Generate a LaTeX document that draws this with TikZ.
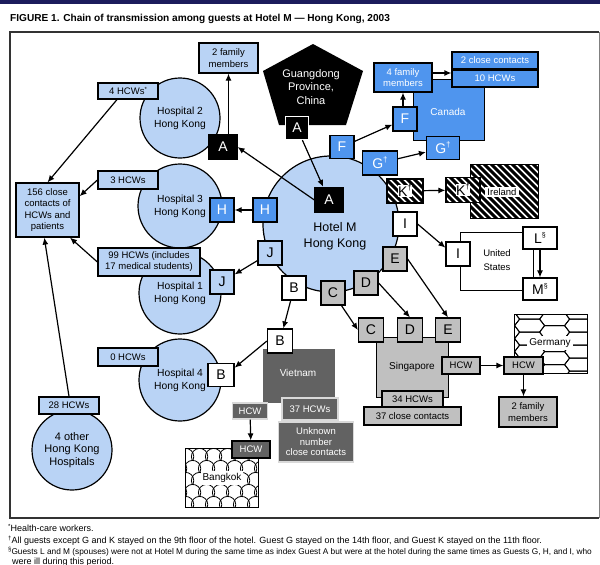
\documentclass[tikz,border=0pt]{standalone}
\usepackage{fontspec}
\setmainfont{Liberation Sans}
\usetikzlibrary{calc,arrows.meta}
\definecolor{lblue}{HTML}{B9D3F5}
\definecolor{mblue}{HTML}{4F95EE}
\definecolor{lgrey}{HTML}{C0C0C0}
\definecolor{dgrey}{HTML}{626262}
\definecolor{navy}{HTML}{1C1C5C}
\newcommand\sdag{\raisebox{0.42em}{\fontsize{8}{8}\selectfont\textdagger}}
\newcommand\ssec{\raisebox{0.42em}{\fontsize{7}{7}\selectfont\S}}
\newcommand\fnmark[1]{\raisebox{0.3em}{\fontsize{6}{6}\selectfont #1}}
\tikzset{
  bx/.style={draw, line width=1.2pt, inner sep=0pt, align=center},
  lbl/.style={bx, fill=lblue, font=\fontsize{9.5}{11.5}\selectfont},
  glbl/.style={bx, fill=lgrey, font=\fontsize{9.5}{11.5}\selectfont},
  blbl/.style={bx, fill=mblue, text=white, font=\fontsize{9.5}{11.5}\selectfont},
  dlbl/.style={bx, fill=dgrey, draw=black!15, text=white, font=\fontsize{9.5}{10.5}\selectfont},
  guest/.style={bx, minimum width=24, minimum height=24, font=\fontsize{14}{14}\selectfont},
  gA/.style={guest, fill=black, text=white},
  gF/.style={guest, fill=mblue, text=white},
  gJ/.style={guest, fill=lblue},
  gW/.style={guest, fill=white},
  gC/.style={guest, fill=lgrey},
  hosp/.style={circle, draw, line width=1.2pt, fill=lblue, inner sep=0pt, align=center, font=\fontsize{10.3}{12.8}\selectfont},
  hatch/.style={path picture={\foreach \i in {-70,-63,...,70}{\draw[line width=3pt] ($(path picture bounding box.center)+(\i-35,-35)$) -- ++(70,70);}}},
  hexes/.style={path picture={\foreach \r in {0,...,10}{\foreach \c in {-1,...,2}{\pgfmathsetmacro\xo{\c*50+mod(\r,2)*25}\draw[line width=0.9pt] ($(path picture bounding box.north west)+(\xo,\r*6.5-2)$) -- ++(5,-6.5) -- ++(20,0) -- ++(5,6.5) -- ++(-5,6.5) -- ++(-20,0) -- cycle;}}}},
  scales/.style={path picture={\foreach \r in {0,...,5}{\foreach \c in {-1,...,6}{\pgfmathsetmacro\xo{\c*14+mod(\r,2)*7}\draw[line width=0.8pt] ($(path picture bounding box.north west)+(\xo,\r*12+8)$) ++(155:8.2) arc[start angle=155,end angle=385,radius=8.2];}}}},
  arr/.style={line width=1.2pt, -{Latex[length=7pt,width=6pt]}},
  txt/.style={inner sep=1pt, align=center},
  fn/.style={anchor=base west, inner sep=0, font=\fontsize{9}{9}\selectfont},
}
\begin{document}
\begin{tikzpicture}[x=1pt,y=-1pt]
\useasboundingbox (0,0) rectangle (600,565);
% header and frame
\fill[navy] (0,0) rectangle (600,3.5);
\node[anchor=base west, inner sep=0, font=\bfseries\fontsize{10.1}{10}\selectfont] (title) at (10,21) {FIGURE 1. Chain of transmission among guests at Hotel M — Hong Kong, 2003};
\draw[line width=1.6pt, black!80] (599,32) -- (10,32) -- (10,518) -- (599,518);
\draw[line width=0.8pt, black!50] (599,32) -- (599,518);

% circles
\node[hosp, minimum size=136] (hotel) at (331,224) {};
\node[txt, font=\fontsize{12.5}{16}\selectfont] (hoteltxt) at (335,236) {Hotel M\\Hong Kong};
\node[hosp, minimum size=80] (hosp2) at (180,118) {Hospital 2\\Hong Kong};
\node[hosp, minimum size=84] (hosp3) at (180,206) {Hospital 3\\Hong Kong};
\node[hosp, minimum size=82] (hosp1) at (180,293) {Hospital 1\\Hong Kong};
\node[hosp, minimum size=82] (hosp4) at (180,380) {Hospital 4\\Hong Kong};
\node[hosp, minimum size=80, font=\fontsize{11}{12.5}\selectfont] (other) at (72,450) {4 other\\Hong Kong\\Hospitals};

% Guangdong
\fill[black] (313,44) -- (363,71) -- (346,125) -- (279,125) -- (263,71) -- cycle;
\node[txt, text=white, font=\fontsize{11}{13.5}\selectfont] (gdtxt) at (311,87) {Guangdong\\Province,\\China};

% regions
\node[bx, fill=mblue, minimum width=71, minimum height=61, anchor=north west] (canada) at (413,79) {};
\node[txt, text=white, font=\fontsize{10}{11}\selectfont] (canadatxt) at (448,112) {Canada};
\node[bx, fill=white, hatch, minimum width=68, minimum height=54, anchor=north west] (ireland) at (470,164) {};
\node[txt, fill=white, inner sep=2pt, font=\fontsize{9.5}{10}\selectfont] (irltxt) at (502,192) {Ireland};
\node[bx, fill=white, minimum width=73, minimum height=58, anchor=north west] (us) at (460,232) {};
\node[txt, font=\fontsize{9.5}{14}\selectfont] (ustxt) at (497,260) {United\\States};
\node[bx, fill=lgrey, minimum width=72, minimum height=60, anchor=north west] (sing) at (376,337) {};
\node[txt, font=\fontsize{10}{11}\selectfont] (singtxt) at (412,367) {Singapore};
\node[bx, fill=white, hexes, minimum width=73, minimum height=59, anchor=north west] (germany) at (514,314) {};
\node[txt, fill=white, inner sep=2pt, font=\fontsize{10}{11}\selectfont] (gertxt) at (550,343) {Germany};
\node[fill=dgrey, inner sep=0, minimum width=72, minimum height=54, anchor=north west] (vietnam) at (263,349) {};
\node[txt, text=white, font=\fontsize{10}{11}\selectfont] (viettxt) at (298,373) {Vietnam};
\node[bx, fill=white, scales, minimum width=73, minimum height=59, anchor=north west] (bangkok) at (185,448) {};
\node[txt, fill=white, inner sep=2pt, font=\fontsize{10}{11}\selectfont] (bkktxt) at (222,478) {Bangkok};

% label boxes (Hong Kong)
\node[lbl, minimum width=59, minimum height=30] (fam2) at (228.5,58) {2 family\\members};
\node[lbl, minimum width=60, minimum height=16] (hcw4) at (128,91) {4 HCWs\fnmark{*}};
\node[lbl, minimum width=60, minimum height=18] (hcw3) at (128,180) {3 HCWs};
\node[lbl, minimum width=63, minimum height=54] (cc156) at (47.5,210) {156 close\\contacts of\\HCWs and\\patients};
\node[lbl, minimum width=102, minimum height=28, font=\fontsize{9.5}{11}\selectfont] (hcw99) at (149,262) {99 HCWs (includes\\17 medical students)};
\node[lbl, minimum width=60, minimum height=18] (hcw0) at (128,357) {0 HCWs};
\node[lbl, minimum width=60, minimum height=17] (hcw28) at (69,405.5) {28 HCWs};

% Canada boxes
\node[blbl, minimum width=58, minimum height=29] (fam4) at (403,77.5) {4 family\\members};
\node[blbl, minimum width=86, minimum height=17] (cc2) at (495,60.5) {2 close contacts};
\node[blbl, minimum width=86, minimum height=17] (hcw10) at (495,78.5) {10 HCWs};

% Singapore / Germany boxes
\node[glbl, minimum width=38, minimum height=17] (hcwsg) at (461,365.5) {HCW};
\node[glbl, minimum width=61, minimum height=16] (hcw34) at (412.5,399) {34 HCWs};
\node[glbl, minimum width=97, minimum height=18] (cc37) at (412.5,416) {37 close contacts};
\node[glbl, minimum width=39, minimum height=17] (hcwde) at (523.5,365.5) {HCW};
\node[glbl, minimum width=58, minimum height=30] (fam2de) at (528,412) {2 family\\members};

% Vietnam / Bangkok boxes
\node[dlbl, minimum width=56, minimum height=22] (hcw37) at (310,409) {37 HCWs};
\node[dlbl, minimum width=75, minimum height=40] (unk) at (316,442) {Unknown\\number\\close contacts};
\node[dlbl, minimum width=35, minimum height=16] (hcwv) at (250,411) {HCW};
\node[dlbl, draw=black, minimum width=38, minimum height=17] (hcwbk) at (251,449.5) {HCW};

% guests
\node[gA, minimum width=28, minimum height=25] (Ahosp) at (223,147) {A};
\node[gA, draw=white, minimum width=23, minimum height=23] (Agd) at (297,128) {A};
\node[gA, minimum width=28, minimum height=25] (Ahot) at (329,200) {A};
\node[gF, minimum height=23] (Fhot) at (342,147) {F};
\node[gF, minimum width=35] (Ghot) at (380,163) {G\sdag};
\node[guest, fill=white, hatch, minimum width=36] (Khot) at (405,191) {};
\node[txt, inner sep=0.5pt, fill=white, font=\fontsize{14}{14}\selectfont] (Khottxt) at (405,191) {K\sdag};
\node[gW] (Ihot) at (405,224) {I};
\node[gC] (Ehot) at (395,259) {E};
\node[gC] (Dhot) at (366,283) {D};
\node[gC] (Chot) at (333,293) {C};
\node[gW] (Bhot) at (294,288) {B};
\node[gJ] (Jhot) at (270,253) {J};
\node[gF] (Hhot) at (265,210) {H};
\node[gF] (Hhosp) at (222,210) {H};
\node[gJ] (Jhosp) at (222,282) {J};
\node[gW, minimum width=26, minimum height=23] (Bhosp) at (221,375) {B};
\node[gW, minimum width=25] (Bviet) at (280,341) {B};
\node[gF] (Fcan) at (405,119) {F};
\node[gF, minimum width=33, minimum height=23] (Gcan) at (443,148) {G\sdag};
\node[guest, fill=white, hatch, minimum width=34, minimum height=25] (Kire) at (463,190) {};
\node[txt, inner sep=0.5pt, fill=white, font=\fontsize{14}{14}\selectfont] (Kiretxt) at (463,190) {K\sdag};
\node[gW] (Ius) at (458,254) {I};
\node[gW, minimum width=34, minimum height=22] (Lus) at (540,238) {L\ssec};
\node[gW, minimum width=34, minimum height=22] (Mus) at (540,289) {M\ssec};
\node[gC, minimum width=25] (Csg) at (371,330) {C};
\node[gC, minimum width=25] (Dsg) at (410,330) {D};
\node[gC, minimum width=25] (Esg) at (448,330) {E};

% connectors
\draw[arr] (Agd) -- (Ahot);
\draw[arr] (Ahot.west) -- (Ahosp.east);
\draw[arr] (fam2.south |- Ahosp.north) -- (fam2.south);
\draw[arr] ([xshift=-11pt]hcw4.south) -- (cc156.north);
\draw[arr] (hcw3.west) -- ($(cc156.north east)!0.25!(cc156.south east)$);
\draw[arr] (hcw99.west) -- ($(cc156.south)!0.7!(cc156.south east)$);
\draw[arr] (hcw28.north) -- ($(cc156.south west)!0.9!(cc156.south)$);
\draw[arr] (Hhot) -- (Hhosp);
\draw[arr] (Jhot) -- (Jhosp);
\draw[arr] (Bhot) -- (Bviet);
\draw[arr] (Bviet.west) -- ($(Bhosp.north east)!0.2!(Bhosp.south east)$);
\draw[arr] (Fhot) -- (Fcan);
\draw[arr] (Ghot) -- (Gcan);
\draw[arr] (fam4.south |- Fcan.north) -- (fam4.south);
\coordinate (famarr) at ($(fam4.east)+(0,-4.5)$);
\draw[arr] (famarr) -- (famarr -| hcw10.west);
\draw[arr] (Khot) -- (Kire);
\draw[arr] (Ihot.east) -- ($(Ius.north west)!0.25!(Ius.south west)$);
\draw[arr] (Lus) -- (Mus);
\draw[arr] (Chot) -- (Csg.west);
\draw[arr] (Dhot.east) -- (Dsg.north);
\draw[arr] (Ehot.east) -- (Esg.north);
\draw[arr] (hcwsg) -- (hcwde);
\draw[arr] (hcwde.south) -- (hcwde.south |- fam2de.north);
\draw[arr] (hcwv) -- (hcwbk);

% footnotes
\node[fn] (fn1) at (8,531) {\fnmark{*}Health-care workers.};
\node[fn] (fn2) at (8,543) {\fnmark{\textdagger}All guests except G and K stayed on the 9th floor of the hotel. Guest G stayed on the 14th floor, and Guest K stayed on the 11th floor.};
\node[fn, font=\fontsize{8.3}{8.3}\selectfont] (fn3) at (8,554) {\fnmark{\S}Guests L and M (spouses) were not at Hotel M during the same time as index Guest A but were at the hotel during the same times as Guests G, H, and I, who};
\node[fn] (fn4) at (12,564) {were ill during this period.};
\end{tikzpicture}
\end{document}
